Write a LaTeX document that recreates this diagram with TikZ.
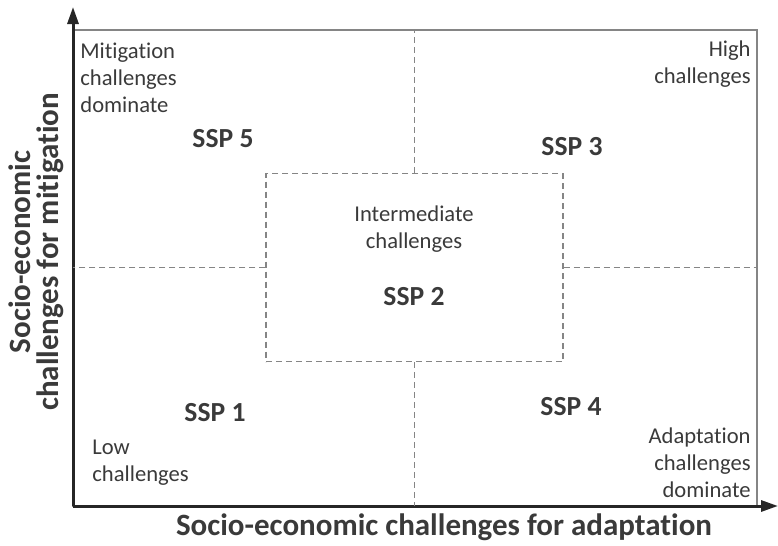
\documentclass[tikz,border=0pt]{standalone}
\usepackage{fontspec}
\setmainfont{Carlito}[Ligatures=NoCommon]
\usetikzlibrary{positioning, arrows.meta}

\definecolor{txtgray}{HTML}{3A3A3A}
\definecolor{linegray}{HTML}{858585}

\begin{document}
\begin{tikzpicture}[
  x=0.5pt, y=-0.5pt,
  >={Triangle[length=8.5pt,width=5.5pt]},
  every node/.style={inner sep=0pt, text=txtgray},
  note/.style={font=\fontsize{11.3}{13.5}\selectfont},
  ssp/.style={font=\fontsize{13.8}{15}\selectfont\bfseries},
  axislabel/.style={font=\fontsize{15.5}{14}\selectfont\bfseries, align=center},
  divider/.style={draw=linegray, line width=0.6pt, dash pattern=on 3pt off 2pt}
]
  \useasboundingbox (0,0) rectangle (778,546);

  % frame and axes
  \coordinate (O) at (73,506);
  \coordinate (ytip) at (73,7);
  \coordinate (xtip) at (778,506);
  \coordinate (NE) at (757,30);
  \draw[linegray, line width=0.7pt] (O) rectangle (NE);
  \draw[->, line width=1.5pt, black!85] (O) -- (ytip);
  \draw[->, line width=1.5pt, black!85] (O) -- (xtip);

  % middle box and dividers
  \node[divider, minimum width=148.5pt, minimum height=94pt] (mid) at (414.5,267.5) {};
  \draw[divider] (mid.north) -- (mid.north |- NE);
  \draw[divider] (mid.south) -- (mid.south |- O);
  \draw[divider] (mid.west) -- (mid.west -| O);
  \draw[divider] (mid.east) -- (mid.east -| NE);

  % corner texts
  \node[note, align=left, anchor=north west] (mitig) at (80,43) {Mitigation\\challenges\\dominate};
  \node[note, align=right, anchor=north east] (high) at (751,40) {High\\challenges};
  \node[note, align=center] (inter) at (414,229) {Intermediate\\challenges};
  \node[note, align=left, anchor=north west] (low) at (92,440) {Low\\challenges};
  \node[note, align=right, anchor=north east] (adapt) at (751,427) {Adaptation\\challenges\\dominate};

  % scenarios
  \node[ssp] (ssp5) at (223,139) {SSP 5};
  \node[ssp] (ssp3) at (572,147) {SSP 3};
  \node[ssp] (ssp2) at (414,297) {SSP 2};
  \node[ssp] (ssp1) at (215,413) {SSP 1};
  \node[ssp] (ssp4) at (571,407) {SSP 4};

  % axis labels
  \node[axislabel] (xlab) at (444,527) {Socio-economic challenges for adaptation};
  \node[axislabel, rotate=90] (ylab) at (36,252) {Socio-economic\\challenges for mitigation};
\end{tikzpicture}
\end{document}
